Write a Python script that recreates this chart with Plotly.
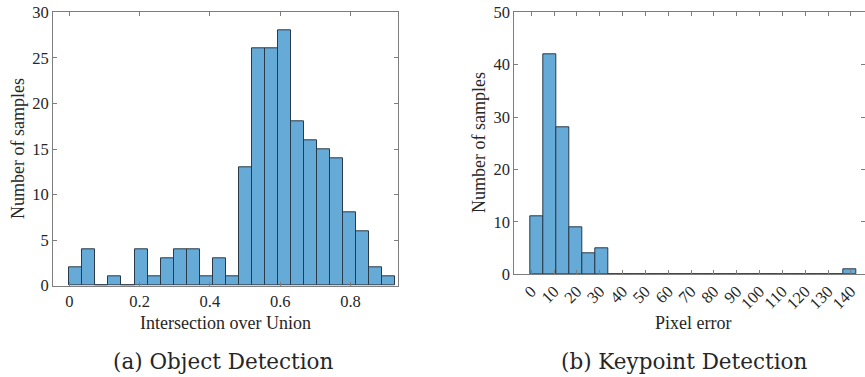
import plotly.graph_objects as go

# ---- data ----
iou_counts = [2, 4, 0, 1, 0, 4, 1, 3, 4, 4, 1, 3, 1, 13, 26, 26, 28, 18, 16, 15, 14, 8, 6, 2, 1]
iou_bin_start = 0.0
iou_bin_width = 0.0371
iou_ticks = [0, 0.2, 0.4, 0.6, 0.8]
iou_tick_labels = ["0", "0.2", "0.4", "0.6", "0.8"]

px_counts = [11, 42, 28, 9, 4, 5, 0, 0, 0, 0, 0, 0, 0, 0, 0, 0, 0, 0, 0, 0, 0, 0, 0, 0, 1]
px_bin_start = -0.4
px_bin_width = 5.72
px_ticks = [0, 10, 20, 30, 40, 50, 60, 70, 80, 90, 100, 110, 120, 130, 140]
px_tick_labels = [str(v) for v in px_ticks]

# ---- styling ----
W, H = 865, 377
FILL = "rgb(102,170,215)"
EDGE = "#2a3a48"
AX = "#7d7d7d"
TXT = "#262626"
SERIF = "Liberation Serif"
CAP = "DejaVu Serif"

def centers(start, width, n):
    return [start + width * (i + 0.5) for i in range(n)]

fig = go.Figure()
fig.add_trace(go.Bar(
    x=centers(iou_bin_start, iou_bin_width, len(iou_counts)), y=iou_counts,
    width=iou_bin_width, marker=dict(color=FILL, line=dict(color=EDGE, width=1)),
    xaxis="x", yaxis="y", showlegend=False, hoverinfo="x+y"))
fig.add_trace(go.Bar(
    x=centers(px_bin_start, px_bin_width, len(px_counts)), y=px_counts,
    width=px_bin_width, marker=dict(color=FILL, line=dict(color=EDGE, width=1)),
    xaxis="x2", yaxis="y2", showlegend=False, hoverinfo="x+y"))

def px2x(p):
    return p / W

def py2y(p):
    return 1 - p / H

axis_common = dict(showline=True, linecolor=AX, linewidth=1, mirror="ticks",
                   ticks="inside", ticklen=4, tickcolor=AX, tickwidth=1,
                   showgrid=False, zeroline=False, automargin=False,
                   tickfont=dict(family=SERIF, size=16.5, color=TXT))

fig.update_layout(
    width=W, height=H, autosize=False,
    margin=dict(l=0, r=0, t=0, b=0, pad=0, autoexpand=False),
    paper_bgcolor="white", plot_bgcolor="white", bargap=0,
    font=dict(family=SERIF, color=TXT),
    xaxis=dict(domain=[px2x(53), px2x(398)], range=[-0.0464, 0.935], anchor="y",
               tickmode="array", tickvals=iou_ticks, ticktext=iou_tick_labels, **axis_common),
    yaxis=dict(domain=[py2y(285.7), py2y(12.3)], range=[0, 30], anchor="x",
               tickmode="linear", tick0=0, dtick=5, **axis_common),
    xaxis2=dict(domain=[px2x(514.3), 1.0], range=[-7.4, 146.2], anchor="y2",
                tickmode="array", tickvals=px_ticks, ticktext=px_tick_labels,
                tickangle=-45, **axis_common),
    yaxis2=dict(domain=[py2y(274.3), py2y(12.3)], range=[0, 50], anchor="x2",
                tickmode="linear", tick0=0, dtick=10, **axis_common),
)

def ann(text, x, y, size, family=SERIF, angle=0):
    fig.add_annotation(text=text, x=px2x(x), y=py2y(y), xref="paper", yref="paper",
                       showarrow=False, xanchor="center", yanchor="middle",
                       textangle=angle, font=dict(family=family, size=size, color=TXT))

ann("Number of samples", 18, 149, 18, angle=-90)
ann("Number of samples", 479, 143, 18, angle=-90)
ann("Intersection over Union", 225.5, 323, 18)
ann("Pixel error", 693, 323, 18)
ann("(a) Object Detection", 224, 361, 21.5, family=CAP)
ann("(b) Keypoint Detection", 684, 361, 21.5, family=CAP)

fig.write_html("out.html", config={"displayModeBar": False},
               post_script="document.body.style.margin='0';document.body.style.overflow='hidden';")
